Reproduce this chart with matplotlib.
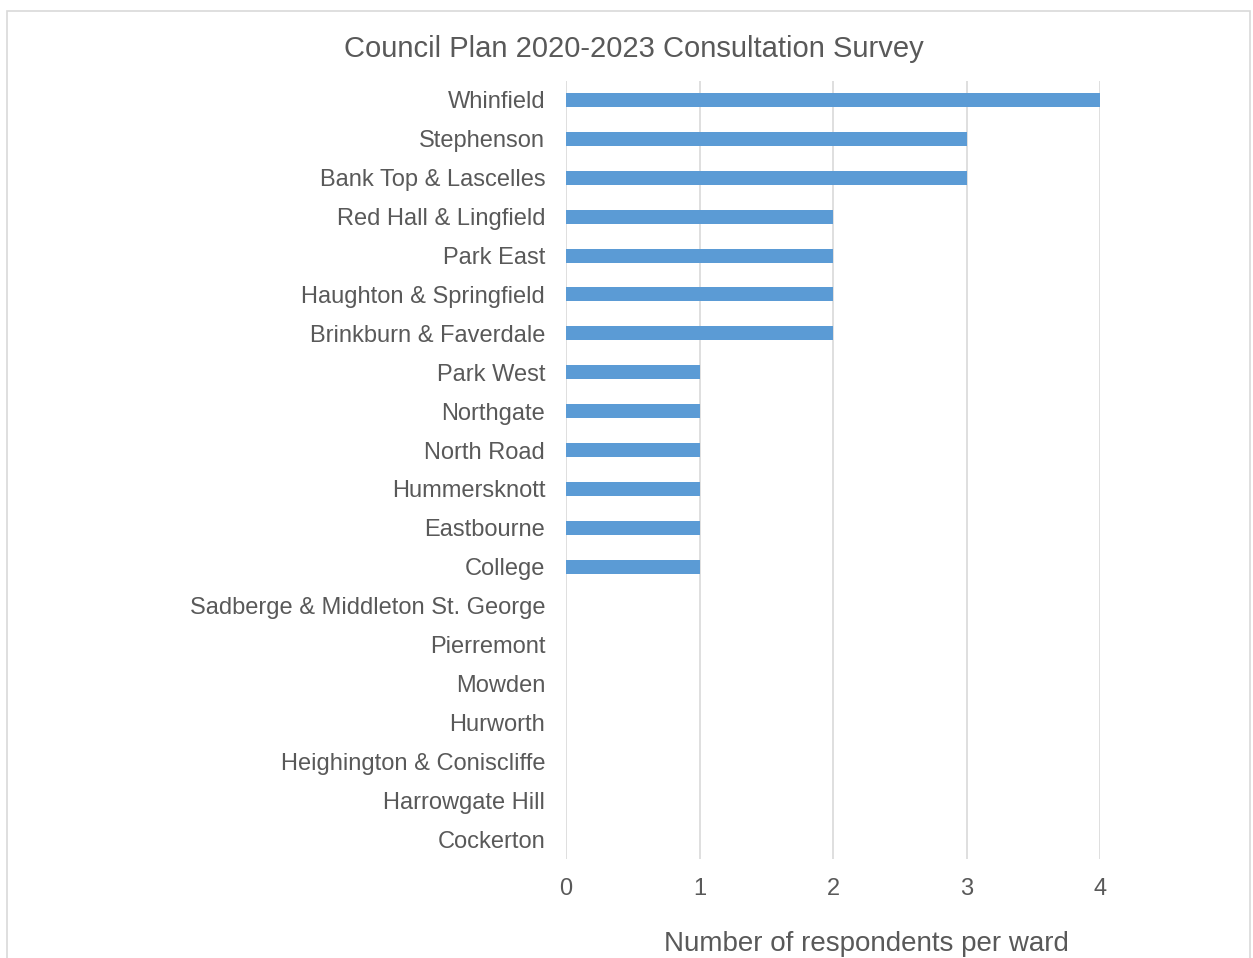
import matplotlib.pyplot as plt
import numpy as np
from matplotlib.patches import Rectangle

plt.rcParams['font.family'] = ['Liberation Sans', 'DejaVu Sans']

wards = ['Whinfield', 'Stephenson', 'Bank Top & Lascelles', 'Red Hall & Lingfield',
         'Park East', 'Haughton & Springfield', 'Brinkburn & Faverdale', 'Park West',
         'Northgate', 'North Road', 'Hummersknott', 'Eastbourne', 'College',
         'Sadberge & Middleton St. George', 'Pierremont', 'Mowden', 'Hurworth',
         'Heighington & Coniscliffe', 'Harrowgate Hill', 'Cockerton']
respondents = [4, 3, 3, 2, 2, 2, 2, 1, 1, 1, 1, 1, 1, 0, 0, 0, 0, 0, 0, 0]
x_ticks = [0, 1, 2, 3, 4]

text_col = '#595959'
bar_col = '#5B9BD5'
grid_col = '#D9D9D9'

fig = plt.figure(figsize=(12.53, 9.58), dpi=100)
# outer chart border
fig.patches.append(Rectangle((7 / 1253, -0.01), (1250 - 7) / 1253, 1 - 11 / 958 + 0.01,
                             transform=fig.transFigure, fill=False,
                             edgecolor='#D9D9D9', linewidth=1.2))

ax = fig.add_axes([566 / 1253, 1 - 858.5 / 958, (1100 - 566) / 1253, (858.5 - 80.5) / 958])

y = np.arange(len(wards))
ax.barh(y, respondents, height=0.36, color=bar_col, zorder=3)
ax.set_ylim(len(wards) - 0.5, -0.5)
ax.set_xlim(0, 4)
ax.set_xticks(x_ticks)
ax.set_yticks(y)
ax.set_yticklabels(wards)
ax.tick_params(axis='both', length=0, colors=text_col, labelsize=17)
ax.tick_params(axis='y', pad=15)
ax.tick_params(axis='x', pad=14)
ax.grid(axis='x', color=grid_col, linewidth=1.2, zorder=0)
for s in ax.spines.values():
    s.set_visible(False)

fig.text(634 / 1253, 1 - 49 / 958, 'Council Plan 2020-2023 Consultation Survey',
         ha='center', va='center', fontsize=21, color=text_col)
fig.text(866 / 1253, 1 - 944 / 958, 'Number of respondents per ward',
         ha='center', va='center', fontsize=20, color=text_col)

fig.savefig('out.png', dpi=100)
